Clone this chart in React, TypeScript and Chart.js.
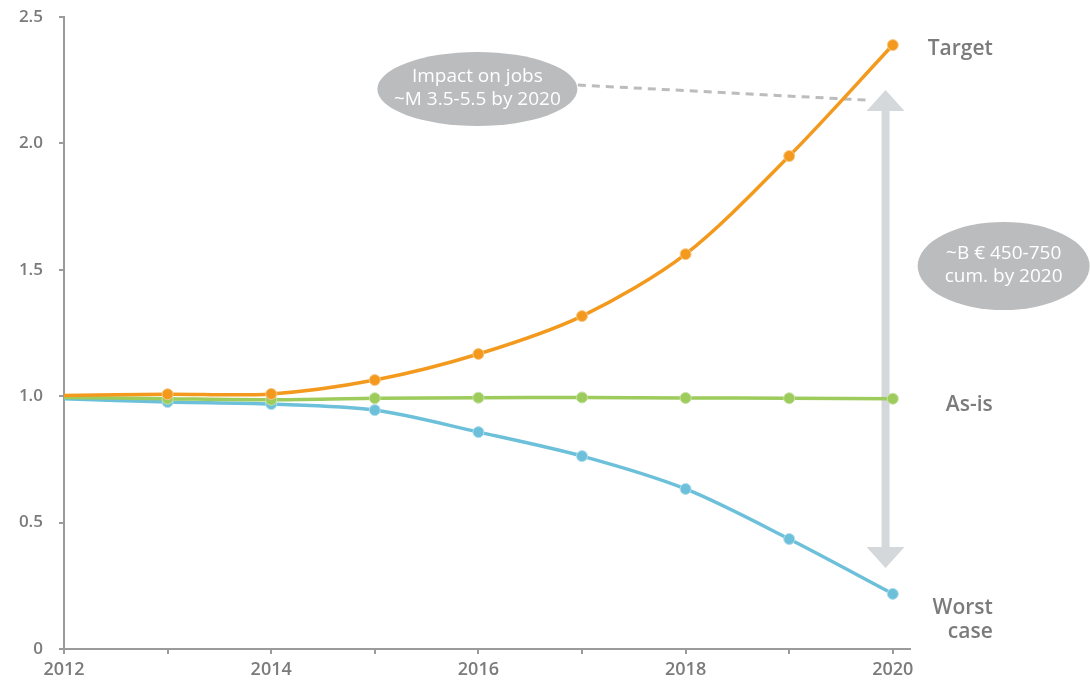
import React, { useEffect, useRef } from "react";
import { Chart, registerables } from "chart.js";

Chart.register(...registerables);

const years = [2012, 2013, 2014, 2015, 2016, 2017, 2018, 2019, 2020];
const targetValues = [1.003, 1.008, 1.009, 1.064, 1.167, 1.317, 1.562, 1.95, 2.389];
const asIsValues = [0.995, 0.99, 0.986, 0.992, 0.994, 0.995, 0.993, 0.992, 0.99];
const worstValues = [0.99, 0.977, 0.969, 0.945, 0.858, 0.763, 0.633, 0.435, 0.218];
const yTicks = [0, 0.5, 1.0, 1.5, 2.0, 2.5];
const seriesLabels = ["Target", "As-is", "Worst case"];
const bubble1 = ["Impact on jobs", "~M 3.5-5.5 by 2020"];
const bubble2 = ["~B € 450-750", "cum. by 2020"];

const FONT = "'Open Sans', Lato, sans-serif";
const ORANGE = "#F39A1E";
const GREEN = "#9DCB5C";
const BLUE = "#6CC0D9";
const AXIS = "#9B9B9B";
const TEXT = "#7B7B7B";
const BUBBLE = "#BBBCBE";
const ARROW = "#D4D8DB";

const annotationPlugin = {
  id: "annotations",
  beforeDatasetsDraw(chart: any) {
    const ctx = chart.ctx;
    const xs = chart.scales.x;
    const ys = chart.scales.y;
    ctx.save();
    const ax = xs.getPixelForValue(2019.93);
    const topTip = ys.getPixelForValue(2.211);
    const topBase = ys.getPixelForValue(2.128);
    const botBase = ys.getPixelForValue(0.403);
    const botTip = ys.getPixelForValue(0.32);
    ctx.fillStyle = ARROW;
    ctx.fillRect(ax - 4, topBase, 8, botBase - topBase);
    ctx.beginPath();
    ctx.moveTo(ax, topTip);
    ctx.lineTo(ax - 19, topBase);
    ctx.lineTo(ax + 19, topBase);
    ctx.closePath();
    ctx.fill();
    ctx.beginPath();
    ctx.moveTo(ax, botTip);
    ctx.lineTo(ax - 19, botBase);
    ctx.lineTo(ax + 19, botBase);
    ctx.closePath();
    ctx.fill();
    ctx.strokeStyle = BUBBLE;
    ctx.lineWidth = 3;
    ctx.setLineDash([8, 6]);
    ctx.beginPath();
    ctx.moveTo(xs.getPixelForValue(2016.96), ys.getPixelForValue(2.231));
    ctx.lineTo(xs.getPixelForValue(2019.76), ys.getPixelForValue(2.171));
    ctx.stroke();
    ctx.setLineDash([]);
    ctx.restore();
  },
  afterDraw(chart: any) {
    const ctx = chart.ctx;
    const xs = chart.scales.x;
    const ys = chart.scales.y;
    ctx.save();
    const drawBubble = (cxv: number, cyv: number, rx: number, ry: number, lines: string[]) => {
      const cx = xs.getPixelForValue(cxv);
      const cy = ys.getPixelForValue(cyv);
      ctx.fillStyle = BUBBLE;
      ctx.beginPath();
      ctx.ellipse(cx, cy, rx, ry, 0, 0, Math.PI * 2);
      ctx.fill();
      ctx.fillStyle = "#FFFFFF";
      ctx.font = `19px ${FONT}`;
      ctx.textAlign = "center";
      ctx.textBaseline = "middle";
      ctx.fillText(lines[0], cx, cy - 12);
      ctx.fillText(lines[1], cx, cy + 11);
    };
    drawBubble(2015.99, 2.215, 100, 37, bubble1);
    drawBubble(2021.07, 1.515, 86, 44, bubble2);

    ctx.fillStyle = TEXT;
    ctx.font = `600 21px ${FONT}`;
    ctx.textAlign = "right";
    ctx.textBaseline = "middle";
    const lx = xs.getPixelForValue(2020) + 100;
    ctx.fillText(seriesLabels[0], lx, ys.getPixelForValue(2.375));
    ctx.fillText(seriesLabels[1], lx, ys.getPixelForValue(0.965));
    const parts = seriesLabels[2].split(" ");
    ctx.fillText(parts[0], lx, ys.getPixelForValue(0.162));
    ctx.fillText(parts[1], lx, ys.getPixelForValue(0.067));
    ctx.restore();
  },
};

export default function App() {
  const ref = useRef<HTMLCanvasElement | null>(null);
  useEffect(() => {
    if (!ref.current) return;
    const mk = (vals: number[]) => years.map((y, i) => ({ x: y, y: vals[i] }));
    const radii = years.map((y, i) => (i === 0 ? 0 : 5.5));
    const ds = (label: string, vals: number[], color: string, halo: string) => ({
      label,
      data: mk(vals),
      borderColor: color,
      backgroundColor: color,
      pointBackgroundColor: color,
      pointBorderColor: halo,
      pointBorderWidth: 1,
      pointRadius: radii,
      borderWidth: 3.5,
      tension: 0.3,
    });
    const chart = new Chart(ref.current, {
      type: "line",
      data: {
        datasets: [
          ds(seriesLabels[0], targetValues, ORANGE, "#F8C887"),
          ds(seriesLabels[1], asIsValues, GREEN, "#C6E2A4"),
          ds(seriesLabels[2], worstValues, BLUE, "#B0DDEB"),
        ],
      },
      options: {
        animation: false,
        responsive: false,
        maintainAspectRatio: false,
        layout: { padding: { top: 17, right: 180, left: 0, bottom: 0 } },
        plugins: { legend: { display: false }, tooltip: { enabled: false } },
        scales: {
          x: {
            type: "linear",
            min: 2012,
            max: 2020.166,
            afterBuildTicks: (scale: any) => {
              scale.ticks = years.map((v) => ({ value: v }));
            },
            afterFit: (scale: any) => {
              scale.height = 35;
              scale.paddingLeft = 0;
              scale.paddingRight = 0;
            },
            grid: { display: true, drawOnChartArea: false, drawTicks: true, tickLength: 5, color: AXIS, lineWidth: 2 },
            border: { display: true, color: AXIS, width: 2 },
            ticks: {
              autoSkip: false,
              maxRotation: 0,
              padding: 5,
              color: TEXT,
              font: { family: FONT, size: 18, weight: "600" },
              callback: (v: any) => (Number(v) % 2 === 0 ? String(v) : ""),
            },
          },
          y: {
            type: "linear",
            min: 0,
            max: 2.5,
            afterBuildTicks: (scale: any) => {
              scale.ticks = yTicks.map((v) => ({ value: v }));
            },
            afterFit: (scale: any) => {
              scale.width = 64;
              scale.paddingTop = 0;
              scale.paddingBottom = 0;
            },
            grid: { display: true, drawOnChartArea: false, drawTicks: true, tickLength: 5, color: AXIS, lineWidth: 2 },
            border: { display: true, color: AXIS, width: 2 },
            ticks: {
              padding: 16,
              color: TEXT,
              font: { family: FONT, size: 17, weight: "600" },
              callback: (v: any) => (Number(v) === 0 ? "0" : Number(v).toFixed(1)),
            },
          },
        },
      },
      plugins: [annotationPlugin],
    } as any);
    return () => chart.destroy();
  }, []);
  return (
    <div style={{ position: "fixed", left: 0, top: 0, width: 1090, height: 684, background: "#fff" }}>
      <canvas ref={ref} width={1090} height={684} style={{ width: 1090, height: 684, display: "block" }} />
    </div>
  );
}
